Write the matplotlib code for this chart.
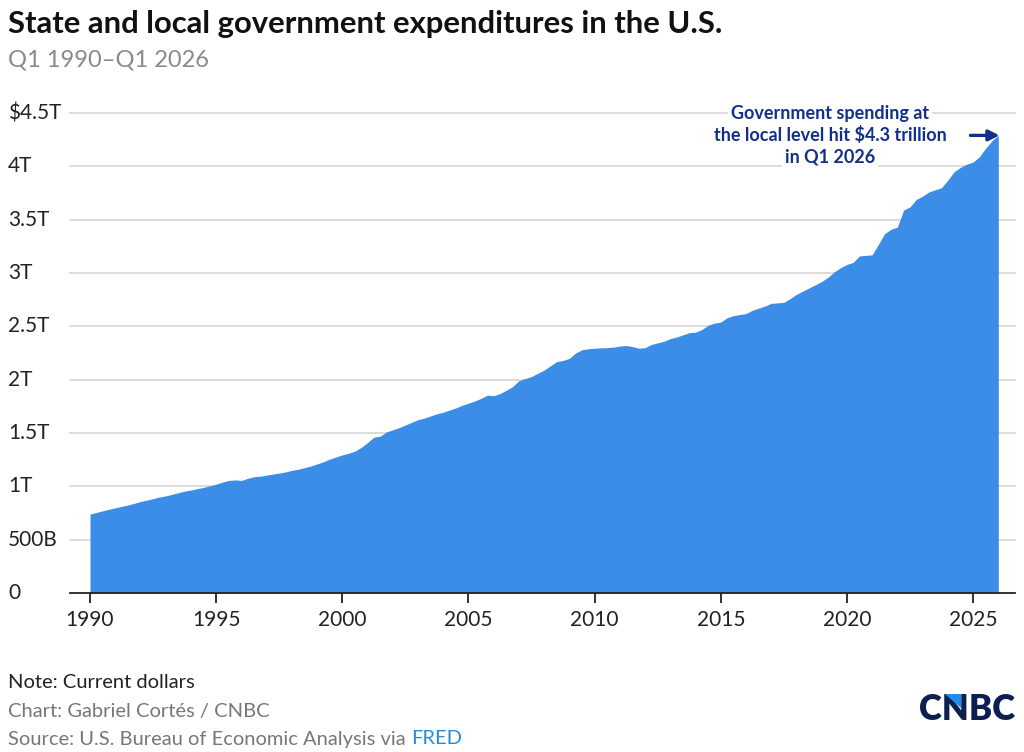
import numpy as np
import matplotlib
matplotlib.use('Agg')
import matplotlib.pyplot as plt
import matplotlib.transforms as mtransforms
from matplotlib.patches import Polygon

# Quarterly state and local government expenditures, trillions of dollars (Q1 1990 - Q1 2026)
spending = [
    0.740, 0.755, 0.770, 0.785,   # 1990
    0.798, 0.812, 0.825, 0.840,   # 1991
    0.858, 0.870, 0.885, 0.900,   # 1992
    0.910, 0.925, 0.940, 0.955,   # 1993
    0.965, 0.978, 0.990, 1.005,   # 1994
    1.020, 1.040, 1.055, 1.060,   # 1995
    1.055, 1.075, 1.090, 1.095,   # 1996
    1.105, 1.115, 1.125, 1.135,   # 1997
    1.150, 1.160, 1.175, 1.190,   # 1998
    1.210, 1.230, 1.255, 1.275,   # 1999
    1.295, 1.310, 1.330, 1.365,   # 2000
    1.410, 1.460, 1.470, 1.510,   # 2001
    1.530, 1.550, 1.575, 1.600,   # 2002
    1.625, 1.640, 1.660, 1.680,   # 2003
    1.695, 1.715, 1.735, 1.760,   # 2004
    1.780, 1.800, 1.825, 1.855,   # 2005
    1.850, 1.870, 1.900, 1.935,   # 2006
    1.990, 2.010, 2.030, 2.060,   # 2007
    2.090, 2.130, 2.170, 2.180,   # 2008
    2.200, 2.250, 2.280, 2.290,   # 2009
    2.295, 2.298, 2.300, 2.305,   # 2010
    2.315, 2.320, 2.310, 2.295,   # 2011
    2.300, 2.330, 2.345, 2.360,   # 2012
    2.385, 2.400, 2.420, 2.440,   # 2013
    2.445, 2.470, 2.510, 2.530,   # 2014
    2.540, 2.580, 2.600, 2.610,   # 2015
    2.620, 2.650, 2.670, 2.690,   # 2016
    2.715, 2.720, 2.725, 2.760,   # 2017
    2.800, 2.830, 2.860, 2.890,   # 2018
    2.920, 2.960, 3.010, 3.050,   # 2019
    3.080, 3.100, 3.160, 3.165,   # 2020
    3.170, 3.270, 3.370, 3.410,   # 2021
    3.430, 3.590, 3.620, 3.690,   # 2022
    3.720, 3.760, 3.780, 3.800,   # 2023
    3.870, 3.950, 3.990, 4.020,   # 2024
    4.040, 4.090, 4.170, 4.240,   # 2025
    4.290,                        # 2026 Q1
]
start_year = 1990
x_ticks = [1990, 1995, 2000, 2005, 2010, 2015, 2020, 2025]
y_ticks = [0, 0.5, 1, 1.5, 2, 2.5, 3, 3.5, 4, 4.5]
y_labels = ['0', '500B', '1T', '1.5T', '2T', '2.5T', '3T', '3.5T', '4T', '$4.5T']

years = start_year + np.arange(len(spending)) / 4.0

plt.rcParams['font.family'] = ['Lato', 'DejaVu Sans']

W, H = 1024, 752
fig = plt.figure(figsize=(W / 100, H / 100), dpi=100)
fig.patch.set_facecolor('white')

ax = fig.add_axes([70 / W, (H - 593) / H, (1015 - 70) / W, (593 - 113) / H])
ax.set_xlim(1990 - 20 / 25.23, 1990 + (1015 - 90) / 25.23)
ax.set_ylim(0, 4.5)

for v in y_ticks[1:]:
    ax.axhline(v, color='#d6d6d6', lw=1.2, zorder=1, clip_on=False)

ax.fill_between(years, 0, spending, color='#3388E6', lw=0, alpha=0.96, zorder=2)

for s in ['top', 'right', 'left']:
    ax.spines[s].set_visible(False)
ax.spines['bottom'].set_color('#222222')
ax.spines['bottom'].set_linewidth(1.3)
ax.spines['bottom'].set_zorder(3)

ax.set_xticks(x_ticks)
ax.set_xticklabels([str(t) for t in x_ticks])
ax.tick_params(axis='x', length=7, width=1.3, color='#222222', pad=5,
               labelsize=15, labelcolor='#222222')
ax.set_yticks([])

trans = mtransforms.blended_transform_factory(fig.transFigure, ax.transData)
for v, lab in zip(y_ticks, y_labels):
    ax.text(8 / W, v, lab, transform=trans, ha='left', va='center',
            fontsize=15, color='#222222')

# annotation
navy = '#12308a'
ann_lines = ['Government spending at', 'the local level hit $4.3 trillion', 'in Q1 2026']
ann_y = [113, 135, 157]
for t, py in zip(ann_lines, ann_y):
    fig.text(830 / W, 1 - py / H, t, ha='center', va='center', fontsize=13,
             fontweight='bold', color=navy,
             bbox=dict(facecolor='white', edgecolor='none', pad=2))
ax.annotate('', xy=(years[-1] + 0.05, spending[-1]), xytext=(2024.9, spending[-1]),
            arrowprops=dict(arrowstyle='-|>', color=navy, lw=2.4,
                            mutation_scale=16, shrinkA=0, shrinkB=0),
            annotation_clip=False, zorder=5)

# titles
fig.text(8 / W, 1 - 24 / H, 'State and local government expenditures in the U.S.',
         ha='left', va='center', fontsize=22.3, fontweight='bold', color='#111111')
fig.text(8 / W, 1 - 60 / H, 'Q1 1990–Q1 2026', ha='left', va='center',
         fontsize=17, color='#8a8a8a')

# footer
foot = 14.5
fig.text(8 / W, 1 - 683 / H, 'Note: Current dollars', ha='left', va='center',
         fontsize=foot, color='#222222')
fig.text(8 / W, 1 - 712 / H, 'Chart: Gabriel Cortés / CNBC', ha='left', va='center',
         fontsize=foot, color='#777777')
src = fig.text(8 / W, 1 - 739 / H, 'Source: U.S. Bureau of Economic Analysis via ',
               ha='left', va='center', fontsize=foot, color='#777777')
fig.canvas.draw()
bb = src.get_window_extent()
fig.text(bb.x1 / W, 1 - 739 / H, 'FRED', ha='left', va='center', fontsize=foot,
         color='#2a8ad6')

# CNBC logo
logo = fig.text(1015 / W, 1 - 709 / H, 'CNBC', ha='right', va='center', fontsize=25,
                fontweight='heavy', color='#0c1f4f')
fig.canvas.draw()
lb = logo.get_window_extent()
# small blue wedge on top of the N
nx0 = lb.x0 + 0.27 * lb.width
nx1 = lb.x0 + 0.44 * lb.width
ty = lb.y1 - 0.18 * lb.height
tri = Polygon([(nx0 / W, (ty + 4) / H), (nx1 / W, (ty + 4) / H), (nx1 / W, (ty - 10) / H)],
              closed=True, transform=fig.transFigure, facecolor='#1f8ef1',
              edgecolor='none', zorder=10)
fig.patches.append(tri)

fig.savefig('out.png', dpi=100, facecolor='white')
